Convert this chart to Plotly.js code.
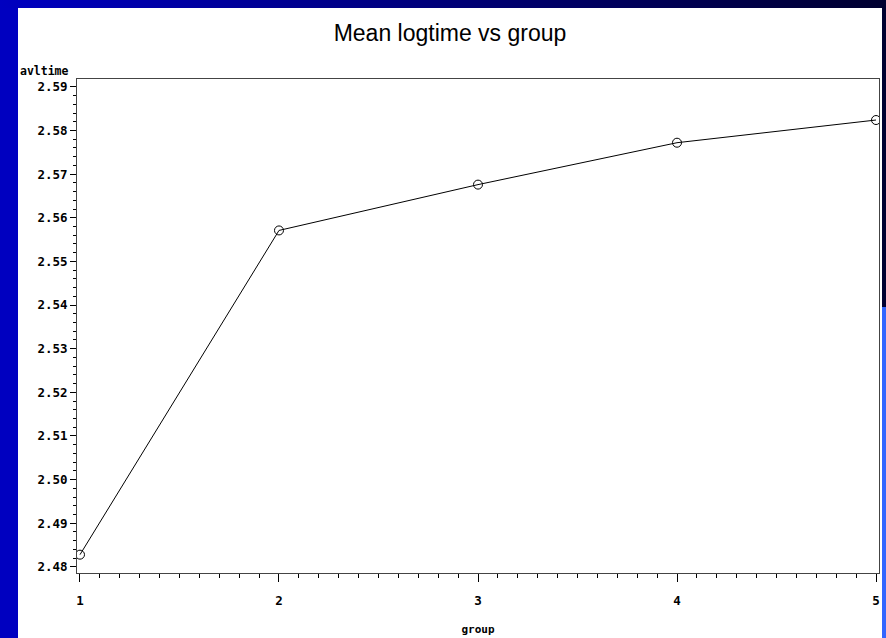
<!DOCTYPE html>
<html>
<head>
<meta charset="utf-8">
<script src="https://cdn.plot.ly/plotly-3.0.1.min.js"></script>
<style>
  html, body { margin:0; padding:0; width:886px; height:638px; overflow:hidden; background:#0000c0; }
  #topbar { position:absolute; left:0; top:0; width:886px; height:8px; background:linear-gradient(to right,#0000c0,#000030); }
  #rightdark { position:absolute; left:882px; top:0; width:4px; height:307px; background:#000030; }
  #rightblue { position:absolute; left:882px; top:307px; width:4px; height:331px; background:#3366ff; }
  #chart { position:absolute; left:18px; top:8px; width:864px; height:630px; }
</style>
</head>
<body>
<div id="topbar"></div>
<div id="rightdark"></div>
<div id="rightblue"></div>
<div id="chart"></div>
<script>
const groups = [1, 2, 3, 4, 5];
const avltime = [2.4828, 2.5571, 2.5676, 2.5772, 2.5824];
const yTicks = [2.48, 2.49, 2.50, 2.51, 2.52, 2.53, 2.54, 2.55, 2.56, 2.57, 2.58, 2.59];
const xTicks = [1, 2, 3, 4, 5];
const titleText = "Mean logtime vs group";
const xLabel = "group";
const yLabel = "avltime";

const tickFont = {family: "DejaVu Sans Mono", size: 12.5, color: "#000", weight: "bold"};

const trace = {
  x: groups, y: avltime, type: "scatter", mode: "lines+markers",
  line: {color: "#000", width: 1},
  marker: {symbol: "circle-open", size: 9, color: "#000", line: {width: 1, color: "#000"}},
  hoverinfo: "skip"
};

const layout = {
  width: 864, height: 630,
  paper_bgcolor: "#fff", plot_bgcolor: "#fff",
  margin: {l: 59, r: 3, t: 71, b: 65},
  showlegend: false,
  title: {text: titleText, font: {family: "Liberation Sans", size: 23, color: "#000"}, x: 0.5, xanchor: "center", y: 0.96, yanchor: "middle"},
  xaxis: {
    range: [0.985, 5.015], tickvals: xTicks, ticktext: xTicks.map(String),
    showgrid: false, zeroline: false, showline: true, linecolor: "#444", linewidth: 1, mirror: true,
    ticks: "outside", ticklen: 8, tickcolor: "#000", tickwidth: 1,
    minor: {ticks: "outside", dtick: 0.1, ticklen: 4, tickcolor: "#000", showgrid: false},
    tickfont: tickFont, ticklabelstandoff: 8,
    title: {text: xLabel, font: {family: "DejaVu Sans Mono", size: 11, color: "#000", weight: "bold"}, standoff: 18}
  },
  yaxis: {
    range: [2.4786, 2.5918], tickvals: yTicks, ticktext: yTicks.map(v => v.toFixed(2)),
    showgrid: false, zeroline: false, showline: true, linecolor: "#444", linewidth: 1, mirror: true,
    ticks: "outside", ticklen: 6, tickcolor: "#000", tickwidth: 1,
    minor: {ticks: "outside", dtick: 0.002, ticklen: 3, tickcolor: "#000", showgrid: false},
    tickfont: tickFont
  },
  annotations: [{
    text: yLabel, xref: "paper", yref: "paper", x: -0.074, y: 1.0, xanchor: "left", yanchor: "bottom",
    yshift: -1, showarrow: false, font: {family: "DejaVu Sans Mono", size: 11.5, color: "#000", weight: "bold"}
  }]
};

Plotly.newPlot("chart", [trace], layout, {staticPlot: true, displayModeBar: false});
</script>
</body>
</html>
